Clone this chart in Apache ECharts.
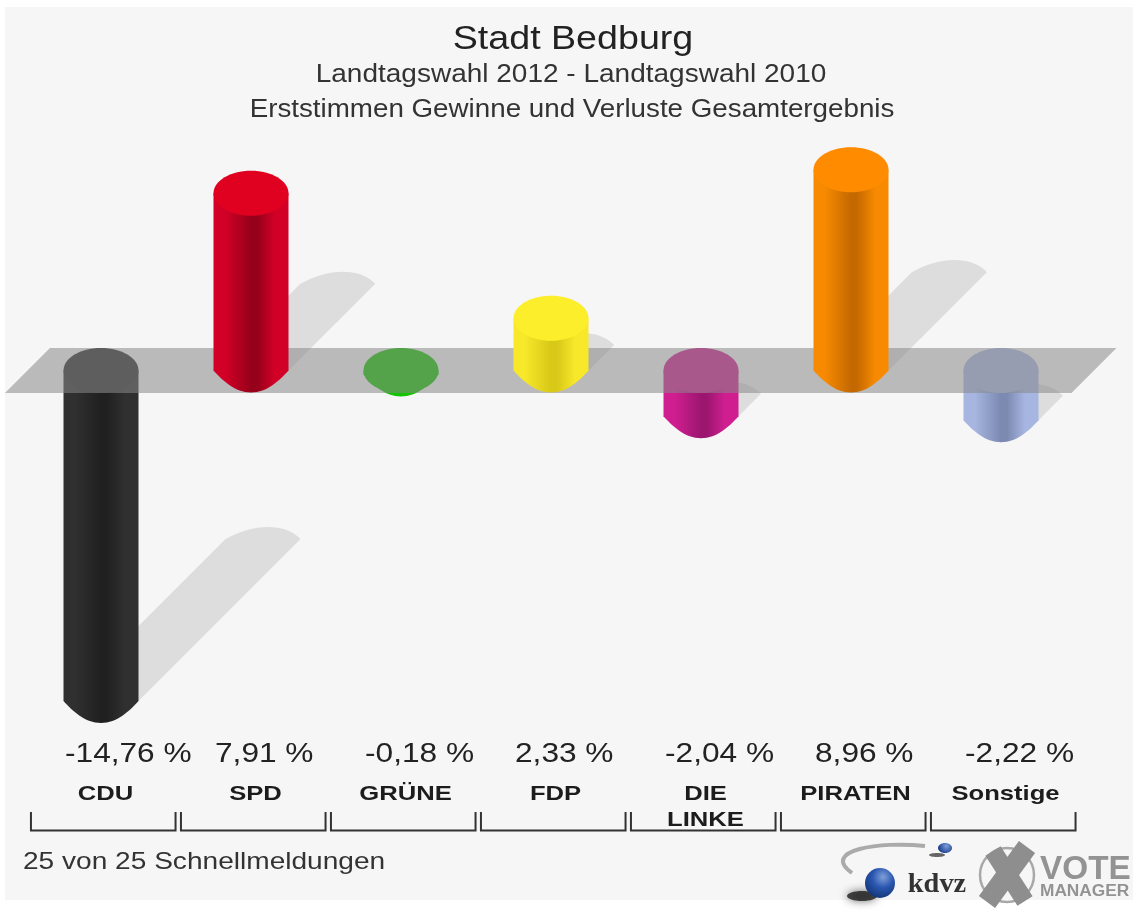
<!DOCTYPE html>
<html>
<head>
<meta charset="utf-8">
<title>Stadt Bedburg</title>
<script src="https://cdn.jsdelivr.net/npm/echarts@6/dist/echarts.min.js"></script>
<style>
  html, body { margin: 0; padding: 0; background: #fff; }
  #main { width: 1133px; height: 911px; }
</style>
</head>
<body>
<div id="main"></div>
<script>
// Daten
var parties = ['CDU', 'SPD', 'GRÜNE', 'FDP', 'DIE\nLINKE', 'PIRATEN', 'Sonstige'];
var changes = [-14.76, 7.91, -0.18, 2.33, -2.04, 8.96, -2.22];

// Farben: Deckel, Rand, Mitte
var capColors  = ['#2c2c2c', '#e0001f', '#14c400', '#fdee2b', '#d01e90', '#ff8c00', '#a6b6e0'];
var edgeColors = ['#303030', '#d20026', '#14c400', '#f7e82a', '#d01e90', '#f78a00', '#a6b6e0'];
var darkColors = ['#202020', '#96001a', '#14c400', '#d8c818', '#9c1670', '#c46800', '#7c8ab2'];

var font = '"Liberation Sans", Arial, sans-serif';

function txt(text, x, y, size, scaleX, opt) {
  opt = opt || {};
  return {
    type: 'text', x: x, y: y, scaleX: scaleX, z: opt.z,
    style: {
      text: text, fill: opt.fill || '#222',
      fontFamily: opt.family || font, fontSize: size, fontWeight: opt.weight || 'normal',
      align: opt.align || 'center', verticalAlign: 'middle'
    }
  };
}

function renderShadow(params, api) {
  var i = api.value(0), v = api.value(1);
  var zero = api.coord([i, 0]), end = api.coord([i, v]);
  var w = api.size([1, 0])[0] * 0.25;
  var d = Math.abs(end[1] - zero[1]) * 0.49;
  var x = end[0], y = Math.max(zero[1], end[1]);
  if (d < 8) return null;
  return {
    type: 'path',
    shape: {
      pathData: 'M' + (x - w) + ' ' + y + 'L' + (x - w + d) + ' ' + (y - d) +
        'C' + (x - w + d + 25) + ' ' + (y - d - 14) + ' ' + (x + d + 20) + ' ' + (y - d - 18) + ' ' + (x + w + d) + ' ' + (y - d) +
        'L' + (x + w) + ' ' + y + 'Z'
    },
    style: { fill: 'rgba(0,0,0,0.1)' }
  };
}

function renderBar(params, api) {
  var i = api.value(0), v = api.value(1);
  var zero = api.coord([i, 0]), end = api.coord([i, v]);
  var w = api.size([1, 0])[0] * 0.25, ry = w * 0.6;
  var x = zero[0];
  var yTop = Math.min(zero[1], end[1]), yBot = Math.max(zero[1], end[1]);
  var tip = yBot + ry - 0.5;
  var body = 'M' + (x - w) + ' ' + yTop + 'L' + (x - w) + ' ' + yBot +
    'C' + (x - w + 9) + ' ' + (yBot + 10) + ' ' + (x - 16) + ' ' + tip + ' ' + x + ' ' + tip +
    'C' + (x + 16) + ' ' + tip + ' ' + (x + w - 9) + ' ' + (yBot + 10) + ' ' + (x + w) + ' ' + yBot +
    'L' + (x + w) + ' ' + yTop + 'Z';
  return {
    type: 'group',
    children: [
      {
        type: 'path', shape: { pathData: body },
        style: {
          fill: new echarts.graphic.LinearGradient(0, 0, 1, 0, [
            { offset: 0, color: edgeColors[i] },
            { offset: 0.15, color: edgeColors[i] },
            { offset: 0.5, color: darkColors[i] },
            { offset: 0.58, color: darkColors[i] },
            { offset: 0.82, color: edgeColors[i] },
            { offset: 1, color: edgeColors[i] }
          ])
        }
      },
      { type: 'ellipse', shape: { cx: x, cy: yTop, rx: w, ry: ry }, style: { fill: capColors[i] } }
    ]
  };
}

// graue Ebene auf der Nulllinie
function renderPlane(params, api) {
  var band = api.size([1, 0])[0];
  var a = api.coord([0, 0]), b = api.coord([parties.length - 1, 0]);
  var h = band * 0.15;
  return {
    type: 'polygon',
    shape: {
      points: [
        [a[0] - band * 0.64, a[1] + h], [a[0] - band * 0.34, a[1] - h],
        [b[0] + band * 0.77, b[1] - h], [b[0] + band * 0.47, b[1] + h]
      ]
    },
    style: { fill: 'rgba(136,136,136,0.55)' }
  };
}

function renderLabels(params, api) {
  var i = api.value(0), v = api.value(1);
  var band = api.size([1, 0])[0];
  var x = api.coord([i, 0])[0];
  var lines = parties[i].split('\n');
  var children = [
    txt(v.toFixed(2).replace('.', ',') + ' %', x - band * 0.24, 754, 28, 1.13, { align: 'left' })
  ];
  lines.forEach(function (line, k) {
    children.push(txt(line, x + band * 0.03, 794 + k * 26, 21, 1.22, { weight: 'bold', fill: '#1c1c1c' }));
  });
  var l = x - band * 0.467, r = x + band * 0.497;
  children.push({
    type: 'polyline',
    shape: { points: [[l, 812], [l, 830.5], [r, 830.5], [r, 812]] },
    style: { fill: 'none', stroke: '#333', lineWidth: 2 }
  });
  return { type: 'group', children: children };
}

function barData(test) {
  var out = [];
  changes.forEach(function (v, i) { if (test(v)) out.push([i, v]); });
  return out;
}
var allData = barData(function () { return true; });

var chart = echarts.init(document.getElementById('main'));
chart.setOption({
  animation: false,
  grid: { left: 26, top: 146.5, width: 1050, height: 582.4 },
  xAxis: { type: 'category', data: parties, show: false },
  yAxis: { type: 'value', min: -16, max: 10, show: false },
  series: [
    { type: 'custom', silent: true, clip: false, z: 2, renderItem: renderShadow, data: allData },
    { type: 'custom', silent: true, clip: false, z: 3, renderItem: renderBar, data: barData(function (v) { return v < 0; }) },
    { type: 'custom', silent: true, clip: false, z: 4, renderItem: renderPlane, data: [[0, 0]] },
    { type: 'custom', silent: true, clip: false, z: 5, renderItem: renderBar, data: barData(function (v) { return v >= 0; }) },
    { type: 'custom', silent: true, clip: false, z: 6, renderItem: renderLabels, data: allData }
  ],
  graphic: [
    { type: 'rect', z: -10, shape: { x: 5, y: 7, width: 1128, height: 893 }, style: { fill: '#f6f6f6' } },
    txt('Stadt Bedburg', 573, 40, 33, 1.14),
    txt('Landtagswahl 2012 - Landtagswahl 2010', 571, 75, 25, 1.12, { fill: '#333' }),
    txt('Erststimmen Gewinne und Verluste Gesamtergebnis', 572, 110, 25, 1.11, { fill: '#333' }),
    txt('25 von 25 Schnellmeldungen', 23, 862, 24, 1.17, { align: 'left', fill: '#333' }),

    // kdvz Logo
    {
      type: 'bezierCurve',
      shape: { x1: 925, y1: 846, cpx1: 880, cpy1: 841, cpx2: 820, cpy2: 850, x2: 852, y2: 873 },
      style: { fill: 'none', stroke: '#aaa', lineWidth: 4 }
    },
    { type: 'ellipse', shape: { cx: 862, cy: 896, rx: 15, ry: 5 }, style: { fill: 'rgba(30,30,30,0.8)', shadowBlur: 8, shadowColor: 'rgba(30,30,30,0.8)' } },
    {
      type: 'circle', shape: { cx: 880, cy: 883, r: 15 },
      style: { fill: new echarts.graphic.RadialGradient(0.6, 0.3, 0.8, [{ offset: 0, color: '#7f9fd8' }, { offset: 0.45, color: '#2a56b0' }, { offset: 1, color: '#10306c' }]) }
    },
    { type: 'ellipse', shape: { cx: 937, cy: 855, rx: 8, ry: 2 }, style: { fill: 'rgba(40,40,40,0.7)' } },
    {
      type: 'ellipse', shape: { cx: 945, cy: 848, rx: 7, ry: 5 },
      style: { fill: new echarts.graphic.RadialGradient(0.6, 0.3, 0.8, [{ offset: 0, color: '#7f9fd8' }, { offset: 1, color: '#1c3f90' }]) }
    },
    txt('kdvz', 937, 885, 27, 1.05, { family: '"Liberation Serif", serif', weight: 'bold', fill: '#333' }),

    // Vote Manager Logo
    { type: 'circle', shape: { cx: 1007, cy: 875, r: 27 }, style: { fill: 'none', stroke: '#a8a8a8', lineWidth: 2.5 } },
    { type: 'line', shape: { x1: 993, y1: 851, x2: 1025, y2: 901 }, style: { stroke: '#8e8e8e', lineWidth: 18 } },
    { type: 'line', shape: { x1: 1027, y1: 847, x2: 987, y2: 902 }, style: { stroke: '#8e8e8e', lineWidth: 20 } },
    txt('VOTE', 1040, 870, 34, 0.98, { align: 'left', weight: 'bold', fill: '#939393' }),
    txt('MANAGER', 1040, 892, 16, 1.08, { align: 'left', weight: 'bold', fill: '#939393' })
  ]
});
</script>
</body>
</html>
